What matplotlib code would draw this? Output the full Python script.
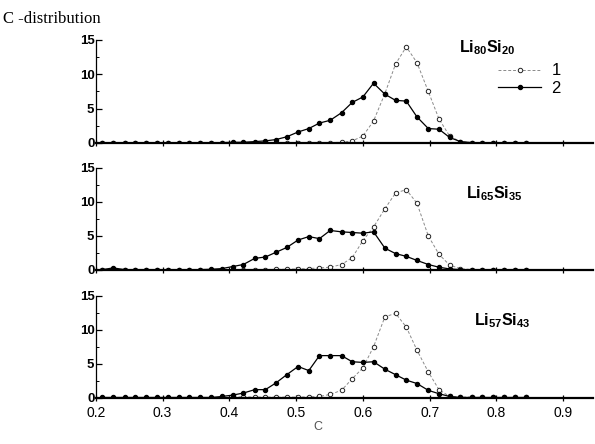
import matplotlib
matplotlib.use("Agg")
import matplotlib.pyplot as plt

plt.rcParams['font.family'] = ['Liberation Sans', 'DejaVu Sans']
plt.rcParams['mathtext.default'] = 'regular'

# composition grid C (shared by all panels)
c_values = [0.210, 0.226, 0.243, 0.259, 0.275, 0.291, 0.308, 0.324, 0.340, 0.356,
            0.373, 0.389, 0.405, 0.421, 0.438, 0.454, 0.470, 0.486, 0.503, 0.519,
            0.535, 0.551, 0.568, 0.584, 0.600, 0.616, 0.633, 0.649, 0.665, 0.681,
            0.698, 0.714, 0.730, 0.746, 0.763, 0.779, 0.795, 0.811, 0.828, 0.844]

# Li80Si20
top_1 = [0.0, 0.0, 0.0, 0.0, 0.0, 0.0, 0.0, 0.0, 0.0, 0.0,
         0.0, 0.0, 0.0, 0.0, 0.0, 0.0, 0.0, 0.0, 0.0, 0.0,
         0.0, 0.05, 0.1, 0.3, 1.0, 3.2, 7.2, 11.5, 14.0, 11.7,
         7.5, 3.5, 1.0, 0.2, 0.05, 0.0, 0.0, 0.0, 0.0, 0.0]
top_2 = [0.05, 0.05, 0.05, 0.05, 0.05, 0.05, 0.05, 0.05, 0.05, 0.05,
         0.05, 0.05, 0.1, 0.1, 0.2, 0.3, 0.5, 0.9, 1.6, 2.1,
         2.9, 3.3, 4.4, 5.9, 6.7, 8.7, 7.1, 6.2, 6.1, 3.8,
         2.1, 2.0, 0.8, 0.2, 0.05, 0.05, 0.05, 0.05, 0.05, 0.05]

# Li65Si35
mid_1 = [0.0, 0.0, 0.0, 0.0, 0.0, 0.0, 0.0, 0.0, 0.0, 0.0,
         0.0, 0.0, 0.0, 0.0, 0.0, 0.05, 0.1, 0.1, 0.15, 0.2,
         0.3, 0.4, 0.8, 1.8, 4.3, 6.3, 9.0, 11.3, 11.8, 9.8,
         5.0, 2.3, 0.7, 0.2, 0.05, 0.0, 0.0, 0.0, 0.0, 0.0]
mid_2 = [0.05, 0.3, 0.05, 0.05, 0.05, 0.05, 0.05, 0.05, 0.05, 0.05,
         0.1, 0.2, 0.5, 0.8, 1.7, 1.9, 2.6, 3.3, 4.4, 4.9,
         4.6, 5.8, 5.6, 5.5, 5.4, 5.6, 3.2, 2.4, 2.0, 1.4,
         0.8, 0.4, 0.15, 0.05, 0.05, 0.05, 0.05, 0.05, 0.05, 0.05]

# Li57Si43
bot_1 = [0.0, 0.0, 0.0, 0.0, 0.0, 0.0, 0.0, 0.0, 0.0, 0.0,
         0.0, 0.0, 0.1, 0.15, 0.1, 0.1, 0.1, 0.1, 0.1, 0.15,
         0.2, 0.5, 1.1, 2.8, 4.4, 7.5, 11.9, 12.4, 10.4, 7.0,
         3.8, 1.2, 0.2, 0.1, 0.1, 0.05, 0.05, 0.05, 0.05, 0.05]
bot_2 = [0.05, 0.05, 0.05, 0.05, 0.05, 0.05, 0.05, 0.05, 0.05, 0.05,
         0.05, 0.2, 0.4, 0.7, 1.2, 1.2, 2.2, 3.4, 4.6, 4.0,
         6.2, 6.2, 6.2, 5.3, 5.2, 5.3, 4.2, 3.4, 2.6, 2.1,
         1.1, 0.6, 0.2, 0.05, 0.05, 0.05, 0.05, 0.05, 0.05, 0.05]

panels = [
    (top_1, top_2, r'Li$_{80}$Si$_{20}$', [0.161, 0.678, 0.836, 0.232], (0.73, 0.93)),
    (mid_1, mid_2, r'Li$_{65}$Si$_{35}$', [0.161, 0.392, 0.836, 0.230], (0.745, 0.75)),
    (bot_1, bot_2, r'Li$_{57}$Si$_{43}$', [0.161, 0.104, 0.836, 0.230], (0.76, 0.76)),
]
x_ticks = [0.2, 0.3, 0.4, 0.5, 0.6, 0.7, 0.8, 0.9]

fig = plt.figure(figsize=(5.95, 4.44), dpi=100)
fig.text(0.005, 0.958, 'C -distribution', family='Liberation Serif', fontsize=12,
         va='center', ha='left')

for i, (s1, s2, name, rect, name_pos) in enumerate(panels):
    ax = fig.add_axes(rect)
    l1, = ax.plot(c_values, s1, color='#8a8a8a', lw=0.7, ls=(0, (3, 2)),
                  marker='o', ms=3.2, mfc='white', mec='#222222', mew=0.7, label='1')
    l2, = ax.plot(c_values, s2, color='black', lw=0.9,
                  marker='o', ms=2.9, mfc='black', mec='black', label='2')
    ax.set_xlim(0.2, 0.945)
    ax.set_ylim(0, 15)
    ax.set_yticks([0, 5, 10, 15])
    ax.set_yticks([2.5, 7.5, 12.5], minor=True)
    ax.set_xticks(x_ticks)
    for side in ('top', 'right'):
        ax.spines[side].set_visible(False)
    ax.spines['left'].set_linewidth(0.9)
    ax.spines['bottom'].set_linewidth(1.6)
    ax.tick_params(axis='y', direction='in', length=4, width=0.9, pad=1,
                   labelsize=9.5)
    ax.tick_params(axis='y', which='minor', direction='in', length=2, width=0.7)
    ax.tick_params(axis='x', direction='inout', length=5, width=0.9, labelsize=10)
    for lab in ax.get_yticklabels():
        lab.set_fontweight('bold')
    if i < 2:
        ax.tick_params(axis='x', labelbottom=False)
    ax.text(name_pos[0], name_pos[1], name, transform=ax.transAxes, fontsize=11.5,
            fontweight='bold', ha='left', va='center')
    if i == 0:
        ax.legend(handles=[l1, l2], loc='upper right', bbox_to_anchor=(0.955, 0.87),
                  frameon=False, fontsize=12, handlelength=2.6, handletextpad=0.6,
                  labelspacing=0.15, borderaxespad=0.2)

fig.text(0.535, 0.038, 'C', fontsize=9, color='#555555', ha='center', va='center')

fig.savefig('out.png', dpi=100)
